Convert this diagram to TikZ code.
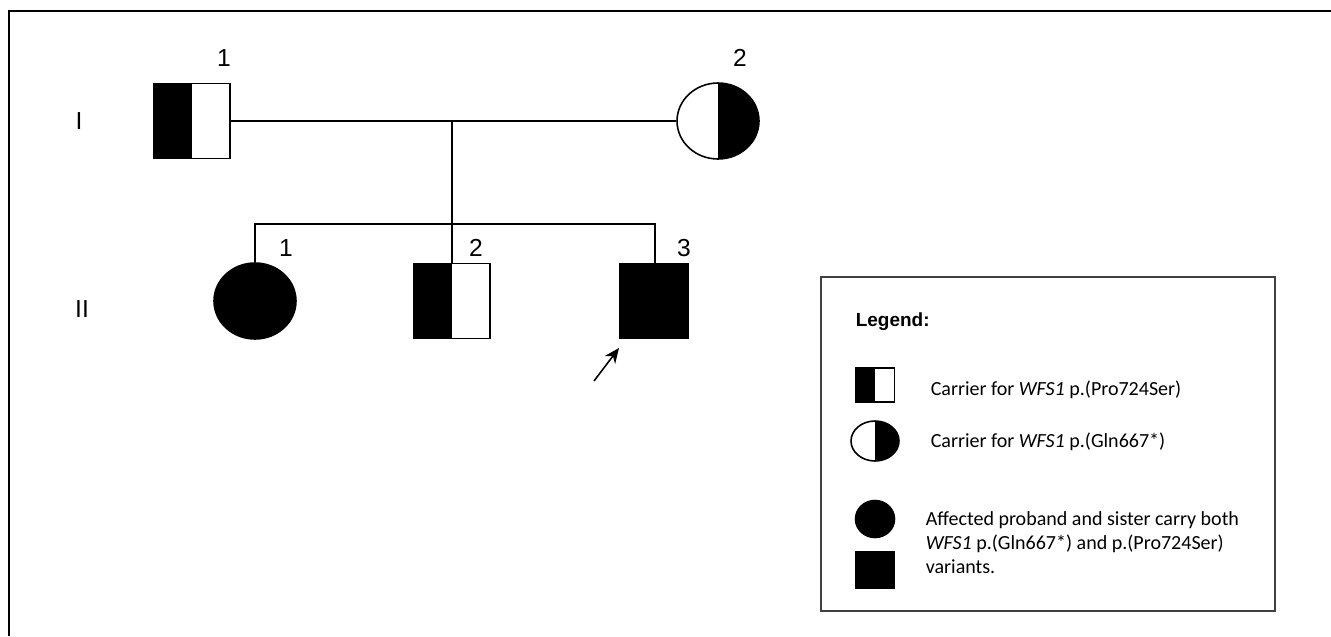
\documentclass[tikz,border=0pt]{standalone}
\usepackage{fontspec}
\setmainfont{Liberation Sans}
\newfontfamily\calibri{Carlito}
\usetikzlibrary{shapes.geometric,arrows.meta}

\tikzset{
  ind/.style={draw, inner sep=0pt, line width=0.9pt},
  maschio/.style={ind, rectangle},
  femmina/.style={ind, ellipse},
  metasx/.style={path picture={\fill (path picture bounding box.south west) rectangle (path picture bounding box.north);}},
  metadx/.style={path picture={\fill (path picture bounding box.south) rectangle (path picture bounding box.north east);}},
  numero/.style={font=\fontsize{14}{16}\selectfont},
  legtesto/.style={font=\calibri\fontsize{11.4}{13.7}\selectfont, anchor=west, align=left, inner sep=0pt},
}

\begin{document}
\begin{tikzpicture}[x=0.02cm, y=-0.02cm, line width=0.9pt]
        \useasboundingbox (0,0) rectangle (1331,636);
        \draw[line width=1.4pt] (9,636) -- (9,11) -- (1331,11);

        % Generazione I
        \node[numero] (genI) at (79,121) {I};
        \node[maschio, metasx, minimum width=1.52cm, minimum height=1.5cm] (I1) at (192,121) {};
        \node[femmina, metadx, minimum width=1.64cm, minimum height=1.52cm] (I2) at (718,121) {};
        \node[numero] (nI1) at (224,58) {1};
        \node[numero] (nI2) at (740,58) {2};

        % Generazione II
        \node[numero] (genII) at (82,309) {II};
        \node[femmina, fill, minimum width=1.64cm, minimum height=1.52cm] (II1) at (255,301) {};
        \node[maschio, metasx, minimum width=1.52cm, minimum height=1.5cm] (II2) at (452,301) {};
        \node[maschio, fill, minimum width=1.36cm, minimum height=1.5cm] (II3) at (654,301) {};
        \node[numero] (nII1) at (286,248) {1};
        \node[numero] (nII2) at (476,248) {2};
        \node[numero] (nII3) at (684,248) {3};

        % Archi
        \coordinate (unione) at (452,121);
        \coordinate (fr1) at (255,224);
        \coordinate (fr3) at (655,224);
        \coordinate (freccia) at (594,381);
        \coordinate (probando) at (619,348);
        \draw (I1) -- (I2);
        \draw (unione) -- (II2.north);
        \draw (II1.north) -- (fr1) -- (fr3) -- (fr3 |- II3.north);
        \draw[-{Stealth[length=3mm,width=2.6mm]}] (freccia) -- (probando);

        % Legenda
        \draw[black!75, line width=1.1pt] (821,277) rectangle (1275,611);
        \node[anchor=west, inner sep=0pt, font=\bfseries\fontsize{10.8}{13}\selectfont] (leg) at (855,322) {Legend:};
        \node[maschio, metasx, minimum width=0.78cm, minimum height=0.68cm] (lm) at (875,385) {};
        \node[femmina, metadx, minimum width=0.96cm, minimum height=0.8cm] (lf) at (875,441) {};
        \node[femmina, fill, minimum width=0.78cm, minimum height=0.74cm] (la) at (875,519) {};
        \node[maschio, fill, minimum width=0.78cm, minimum height=0.74cm] (lb) at (875,570) {};
        \node[legtesto] (t1) at (930,390) {Carrier for \textit{WFS1} p.(Pro724Ser)};
        \node[legtesto] (t2) at (930,442) {Carrier for \textit{WFS1} p.(Gln667*)};
        \node[legtesto] (t3) at (925,543) {Affected proband and sister carry both\\\textit{WFS1} p.(Gln667*) and p.(Pro724Ser)\\variants.};
\end{tikzpicture}
\end{document}
